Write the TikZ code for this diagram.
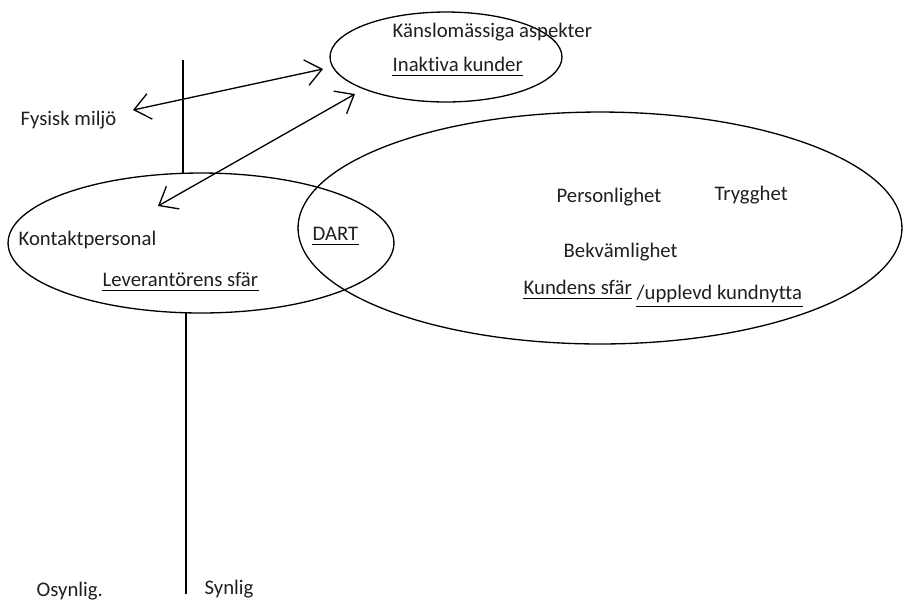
\documentclass[tikz,border=0pt]{standalone}
\usepackage{fontspec}
\setmainfont{Carlito}[Ligatures={NoCommon}]
\usetikzlibrary{shapes.geometric,arrows.meta}
\begin{document}
\begin{tikzpicture}[x=0.02cm,y=-0.02cm,
  line width=0.75pt,
  txt/.style={inner sep=0pt,anchor=base west,font=\fontsize{11.8}{14}\selectfont,text=black!88},
  oval/.style={draw,ellipse,inner sep=0pt},
  ul/.style={line width=0.7pt},
  biarrow/.style={{Straight Barb[length=3.2mm,width=5.2mm]}-{Straight Barb[length=3.2mm,width=5.2mm]}}]
\useasboundingbox (0,0) rectangle (904,600);

% spheres
\node[oval,minimum width=4.64cm,minimum height=1.8cm] (emo) at (446,57) {};
\node[oval,minimum width=7.72cm,minimum height=2.8cm] (lev) at (201,243) {};
\node[oval,minimum width=12.08cm,minimum height=4.64cm] (kund) at (600,228) {};

% visible / invisible divider
\coordinate (divtop) at (183,60);
\coordinate (divbot) at (186,594);
\draw (divtop) -- (183,173);
\draw (186,313) -- (divbot);

% labels
\node[txt] (kansl) at (392,37) {Känslomässiga aspekter};
\node[txt] (inakt) at (392,71) {Inaktiva kunder};
\node[txt] (fysisk) at (20,125) {Fysisk miljö};
\node[txt] (kontakt) at (18,245) {Kontaktpersonal};
\node[txt] (leveran) at (102,286) {Leverantörens sfär};
\node[txt] (dart) at (312,240) {DART};
\node[txt] (person) at (556,202) {Personlighet};
\node[txt] (trygg) at (714,200) {Trygghet};
\node[txt] (bekv) at (563,257) {Bekvämlighet};
\node[txt] (kundsf) at (523,294) {Kundens sfär};
\node[txt] (nytta) at (636,299) {/upplevd kundnytta};
\node[txt] (osyn) at (36,596) {Osynlig.};
\node[txt] (syn) at (204,594) {Synlig};

% underlines
\foreach \n in {inakt,leveran,dart,kundsf}
  \draw[ul] ([yshift=-2.6pt]\n.base west) -- ([yshift=-2.6pt]\n.base east);
\draw[ul] ([yshift=-4.2pt]nytta.base west) -- ([yshift=-4.2pt]nytta.base east);

% arrow end points
\coordinate (a1) at (133,110);
\coordinate (a2) at (323,69);
\coordinate (b1) at (158,206);
\coordinate (b2) at (355,94);
\draw[biarrow] (a1) -- (a2);
\draw[biarrow] (b1) -- (b2);
\end{tikzpicture}
\end{document}
